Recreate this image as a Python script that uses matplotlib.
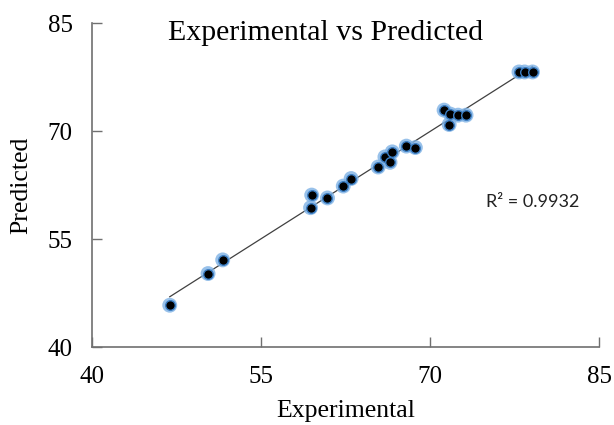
import matplotlib
matplotlib.use("Agg")
import matplotlib.pyplot as plt
import numpy as np

# -----------------------------
# Данные
# -----------------------------
experimental = [46.9, 50.3, 51.6, 59.4, 59.5, 60.9, 62.3, 63.0, 65.4, 66.0, 66.65,
                66.45, 67.9, 68.7, 71.25, 71.8, 71.7, 72.5, 73.2, 77.9, 78.4, 79.1]
predicted = [45.8, 50.2, 52.1, 59.35, 61.1, 60.7, 62.35, 63.4, 65.0, 66.4, 67.1,
             65.65, 67.9, 67.7, 72.9, 72.35, 70.9, 72.2, 72.2, 78.2, 78.2, 78.2]
r2_text = "R² = 0.9932"
ticks = [40, 55, 70, 85]

serif = ["Liberation Serif", "DejaVu Serif"]

fig = plt.figure(figsize=(6.14, 4.25), dpi=100)
ax = fig.add_axes([92 / 614, 1 - 347 / 425, 507 / 614, 324 / 425])

x = np.array(experimental)
y = np.array(predicted)

# линия тренда (линейная регрессия)
k, b = np.polyfit(x, y, 1)
xl = np.array([x.min(), x.max()])
ax.plot(xl, k * xl + b, color="#404040", lw=0.9, zorder=2)

# точки: голубой ореол + чёрный центр
ax.scatter(x, y, s=115, color="#7fb2e5", alpha=0.8, edgecolors="none", zorder=3)
ax.scatter(x, y, s=48, color="black", edgecolors="#3d7fc4", linewidths=1.0, zorder=4)

ax.set_xlim(40, 85)
ax.set_ylim(40, 85)
ax.set_xticks(ticks)
ax.set_yticks(ticks)
for s in ["top", "right"]:
    ax.spines[s].set_visible(False)
for s in ["left", "bottom"]:
    ax.spines[s].set_color("#707070")
    ax.spines[s].set_linewidth(1.2)
ax.tick_params(direction="in", length=7, width=1, color="#707070",
               labelsize=18, pad=14)
for lab in ax.get_xticklabels() + ax.get_yticklabels():
    lab.set_family(serif)
    lab.set_color("black")

fig.text(325.5 / 614, 1 - 33 / 425, "Experimental vs Predicted", family=serif,
         fontsize=21.5, ha="center", va="center")
fig.text(346 / 614, 1 - 411 / 425, "Experimental", family=serif,
         fontsize=18.5, ha="center", va="center")
fig.text(21 / 614, 1 - 185 / 425, "Predicted", family=serif,
         fontsize=18.5, ha="center", va="center", rotation=90)
fig.text(533 / 614, 1 - 202 / 425, r2_text, family=["Lato", "DejaVu Sans"],
         fontsize=13, ha="center", va="center", color="#222222")

fig.savefig("out.png", dpi=100)
